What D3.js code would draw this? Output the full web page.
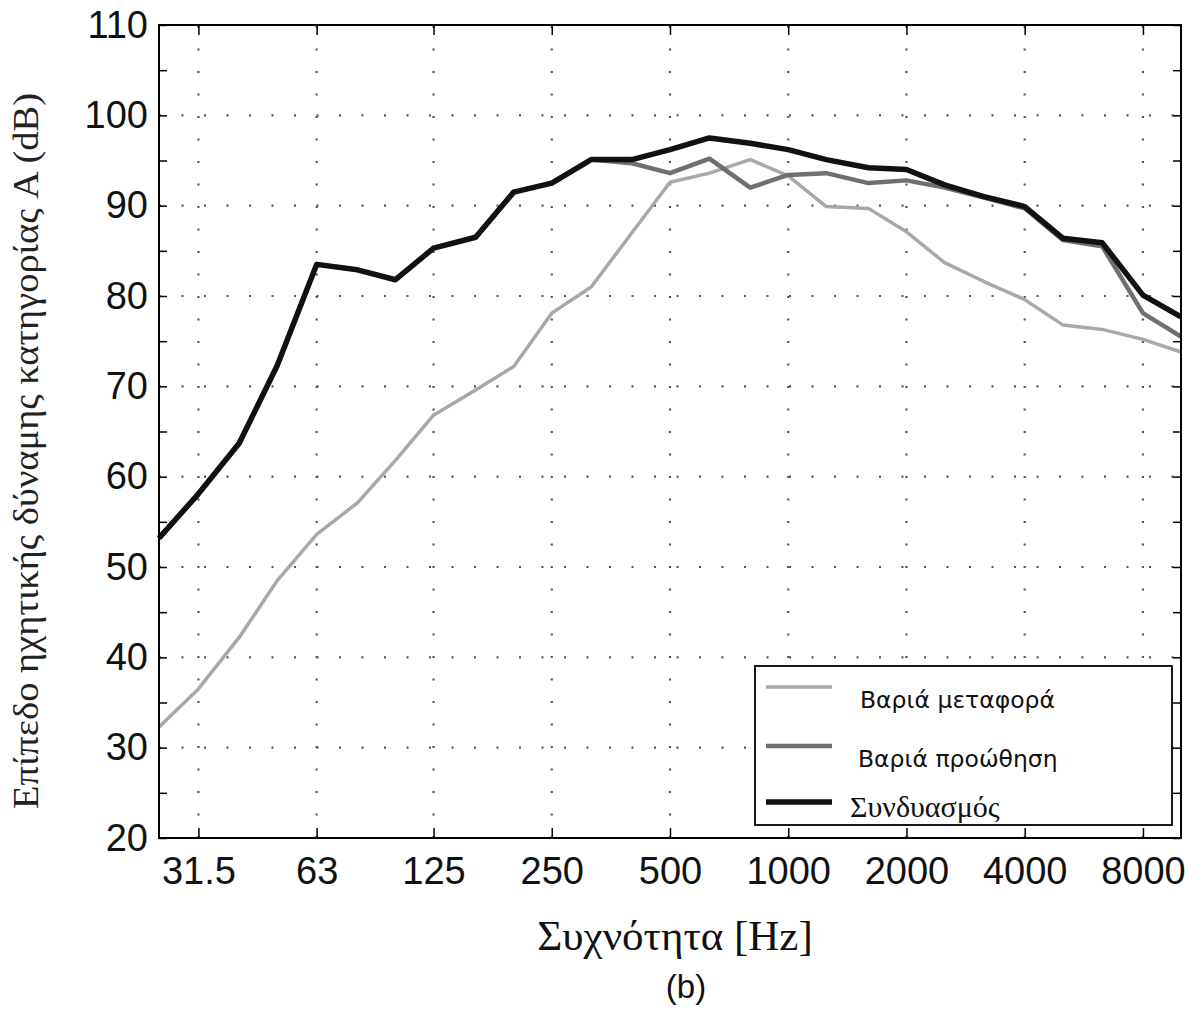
<!DOCTYPE html>
<html>
<head>
<meta charset="utf-8">
<script src="https://cdn.jsdelivr.net/npm/d3@7"></script>
<style>
  body { margin: 0; background: #fff; }
  svg { display: block; }
</style>
</head>
<body>
<div id="chart"></div>
<script>
// 1/3 octave band centre frequencies (Hz)
const freqs = [25, 31.5, 40, 50, 63, 80, 100, 125, 160, 200, 250, 315, 400, 500,
  630, 800, 1000, 1250, 1600, 2000, 2500, 3150, 4000, 5000, 6300, 8000, 10000];

// sound power levels (dB(A))
const transport = [32.3, 36.5, 42.2, 48.5, 53.6, 57.1, 61.8, 66.8, 69.6, 72.2, 78.1, 81.0, 87.0, 92.6,
  93.6, 95.1, 93.3, 89.9, 89.7, 87.1, 83.7, 81.6, 79.6, 76.8, 76.3, 75.2, 73.8];
const push = [53.2, 58.1, 63.7, 72.3, 83.5, 82.9, 81.8, 85.3, 86.5, 91.5, 92.5, 95.1, 94.7, 93.6,
  95.2, 92.0, 93.4, 93.6, 92.5, 92.8, 92.0, 90.9, 89.7, 86.2, 85.5, 78.1, 75.5];
const combined = [53.2, 58.1, 63.7, 72.3, 83.5, 82.9, 81.8, 85.3, 86.5, 91.5, 92.5, 95.1, 95.1, 96.2,
  97.5, 96.9, 96.2, 95.1, 94.2, 94.0, 92.3, 91.0, 89.9, 86.4, 85.9, 80.1, 77.7];

const xTicks = [31.5, 63, 125, 250, 500, 1000, 2000, 4000, 8000];
const seriesNames = ["Βαριά μεταφορά", "Βαριά προώθηση", "Συνδυασμός"];

const width = 1203, height = 1032;
const pLeft = 159, pRight = 1181, pTop = 25, pBottom = 838;

const svg = d3.select("#chart").append("svg")
  .attr("width", width).attr("height", height);

const x = d3.scaleLog().domain([25, 10000]).range([pLeft, pRight]);
const y = d3.scaleLinear().domain([20, 110]).range([pBottom, pTop]);

// dotted grid
const grid = svg.append("g").attr("stroke", "#555").attr("stroke-width", 2.2)
  .attr("stroke-dasharray", "2,20.5");
grid.selectAll(".hg").data(d3.range(30, 110, 10)).join("line")
  .attr("x1", pLeft).attr("x2", pRight)
  .attr("y1", d => y(d)).attr("y2", d => y(d));
grid.selectAll(".vg").data(xTicks).join("line")
  .attr("x1", d => x(d)).attr("x2", d => x(d))
  .attr("y1", pBottom).attr("y2", pTop);

// axes, ticks pointing inward
const fmt = d => (d % 10 === 0 ? d : "");
const yTicks = d3.range(20, 111, 5);

const gx = svg.append("g").attr("transform", `translate(0,${pBottom})`)
  .call(d3.axisBottom(x).tickValues(xTicks).tickFormat(d => d).tickSize(-10).tickPadding(19));
const gxt = svg.append("g").attr("transform", `translate(0,${pTop})`)
  .call(d3.axisTop(x).tickValues(xTicks).tickFormat("").tickSize(-10));
const gy = svg.append("g").attr("transform", `translate(${pLeft},0)`)
  .call(d3.axisLeft(y).tickValues(yTicks).tickFormat(fmt).tickSize(-8).tickPadding(11));
const gyr = svg.append("g").attr("transform", `translate(${pRight},0)`)
  .call(d3.axisRight(y).tickValues(yTicks).tickFormat("").tickSize(-8));

[gx, gxt, gy, gyr].forEach(g => {
  g.select(".domain").remove();
  g.selectAll(".tick line").attr("stroke", "#000").attr("stroke-width", 1.5);
  g.selectAll("text").attr("font-family", "Liberation Sans, Arial, sans-serif")
    .attr("font-size", 38).attr("fill", "#111");
});

// lines
const line = d3.line().x((d, i) => x(freqs[i])).y(d => y(d));
const styles = [
  { data: transport, color: "#a8a8a8", w: 3.5 },
  { data: push, color: "#6f6f6f", w: 4.5 },
  { data: combined, color: "#111", w: 5.5 }
];
styles.forEach(s => {
  svg.append("path").datum(s.data)
    .attr("fill", "none").attr("stroke", s.color)
    .attr("stroke-width", s.w).attr("stroke-linejoin", "round")
    .attr("d", line);
});

// frame
svg.append("rect").attr("x", pLeft).attr("y", pTop)
  .attr("width", pRight - pLeft).attr("height", pBottom - pTop)
  .attr("fill", "none").attr("stroke", "#000").attr("stroke-width", 2);

// legend
const lg = svg.append("g");
lg.append("rect").attr("x", 755).attr("y", 666).attr("width", 417).attr("height", 159)
  .attr("fill", "#fff").attr("stroke", "#000").attr("stroke-width", 1.8);
const legY = [687, 746, 802];
const txtY = [708, 767, 817];
const txtX = [860, 858, 850];
styles.forEach((s, i) => {
  lg.append("line").attr("x1", 766).attr("x2", 832)
    .attr("y1", legY[i]).attr("y2", legY[i])
    .attr("stroke", s.color).attr("stroke-width", s.w);
  lg.append("text").attr("x", txtX[i]).attr("y", txtY[i])
    .attr("font-family", i === 2 ? "Liberation Serif, serif" : "DejaVu Sans, sans-serif")
    .attr("font-size", i === 2 ? 30 : 23.5)
    .attr("fill", "#111")
    .text(seriesNames[i]);
});

// axis titles
svg.append("text").attr("x", 675).attr("y", 950)
  .attr("text-anchor", "middle")
  .attr("font-family", "Liberation Serif, serif").attr("font-size", 43).attr("fill", "#111")
  .text("Συχνότητα [Hz]");

svg.append("text").attr("transform", "translate(38,451) rotate(-90)")
  .attr("text-anchor", "middle")
  .attr("font-family", "Liberation Serif, serif").attr("font-size", 36).attr("fill", "#222")
  .attr("textLength", 716).attr("lengthAdjust", "spacingAndGlyphs")
  .text("Επίπεδο ηχητικής δύναμης κατηγορίας A (dB)");

svg.append("text").attr("x", 686).attr("y", 998)
  .attr("text-anchor", "middle")
  .attr("font-family", "Liberation Sans, Arial, sans-serif").attr("font-size", 33).attr("fill", "#111")
  .text("(b)");
</script>
</body>
</html>
